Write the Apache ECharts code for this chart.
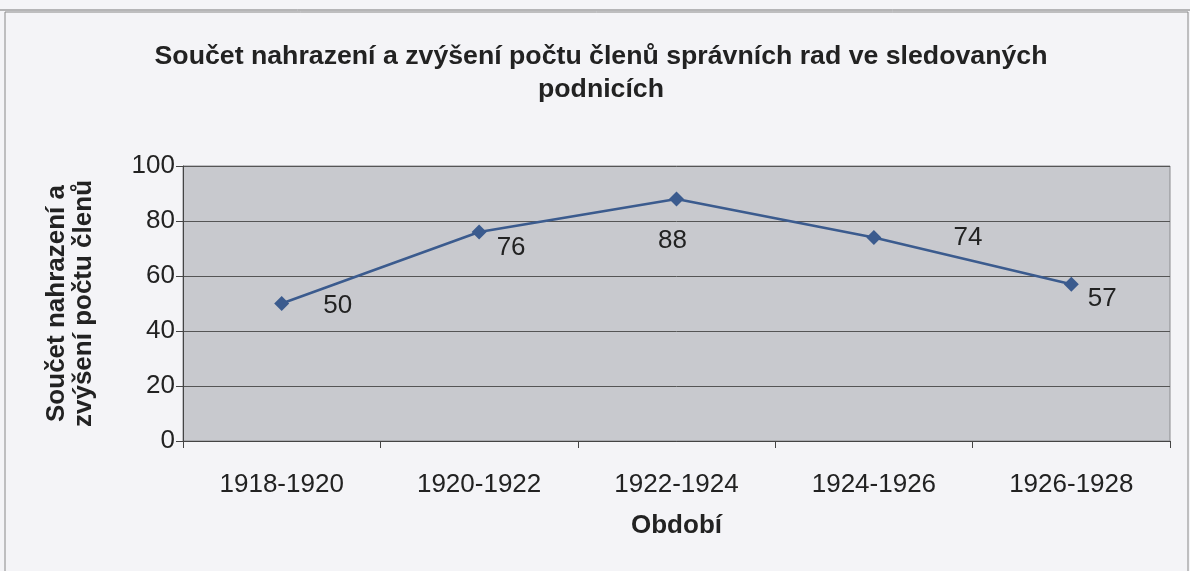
<!DOCTYPE html>
<html>
<head>
<meta charset="utf-8">
<script src="https://cdn.jsdelivr.net/npm/echarts@6/dist/echarts.min.js"></script>
<style>
html,body{margin:0;padding:0;background:#f4f4f7;}
#c{width:1190px;height:571px;}
</style>
</head>
<body>
<div id="c"></div>
<script>
const titleText = 'Součet nahrazení a zvýšení počtu členů správních rad ve sledovaných\npodnicích';
const categories = ['1918-1920', '1920-1922', '1922-1924', '1924-1926', '1926-1928'];
const values = [50, 76, 88, 74, 57];
const yAxisName = 'Součet nahrazení a\nzvýšení počtu členů';
const xAxisName = 'Období';
// label placement (layout only)
const labelOffsets = [[56, 2], [32, 16], [-4, 42], [94, 0], [31, 15]];

const font = '"Liberation Sans", Arial, sans-serif';
const chart = echarts.init(document.getElementById('c'), null, {renderer: 'canvas'});
chart.setOption({
  backgroundColor: '#f4f4f7',
  animation: false,
  title: {
    text: titleText,
    left: 601, top: 40, textAlign: 'center', padding: 0,
    textStyle: {fontFamily: font, fontWeight: 'bold', fontSize: 26.7, color: '#222', lineHeight: 33}
  },
  graphic: [
    {type: 'line', shape: {x1: 0, y1: 10, x2: 1190, y2: 10}, style: {stroke: '#777', lineWidth: 1}},
    {type: 'rect', shape: {x: 5, y: 12, width: 1183, height: 570}, style: {fill: 'none', stroke: '#888', lineWidth: 1}}
  ],
  grid: {left: 183, right: 20, top: 166, bottom: 130, show: true, backgroundColor: '#c8c9ce', borderColor: '#8a8a8e', borderWidth: 1},
  xAxis: {
    type: 'category', data: categories, boundaryGap: true,
    name: xAxisName, nameLocation: 'middle', nameGap: 72,
    nameTextStyle: {fontFamily: font, fontWeight: 'bold', fontSize: 26, color: '#222'},
    axisLine: {lineStyle: {color: '#444', width: 1}},
    axisTick: {show: true, length: 7, lineStyle: {color: '#444'}},
    axisLabel: {fontFamily: font, fontSize: 26, color: '#222', margin: 31}
  },
  yAxis: {
    type: 'value', min: 0, max: 100, interval: 20,
    name: yAxisName, nameLocation: 'middle', nameGap: 86, nameRotate: 90,
    nameTextStyle: {fontFamily: font, fontWeight: 'bold', fontSize: 26, color: '#222', lineHeight: 27},
    axisLine: {show: true, lineStyle: {color: '#444', width: 1}},
    axisTick: {show: true, length: 7, inside: false, lineStyle: {color: '#444'}},
    splitLine: {show: true, lineStyle: {color: '#555', width: 1}},
    axisLabel: {fontFamily: font, fontSize: 26, color: '#222', margin: 8}
  },
  series: [{
    type: 'line',
    data: values.map((v, i) => ({
      value: v,
      label: {offset: labelOffsets[i]}
    })),
    symbol: 'diamond', symbolSize: 15,
    lineStyle: {color: '#3b5b8e', width: 2.5},
    itemStyle: {color: '#3b5b8e'},
    label: {show: true, position: 'inside', fontFamily: font, fontSize: 26, color: '#222'}
  }]
});
</script>
</body>
</html>
